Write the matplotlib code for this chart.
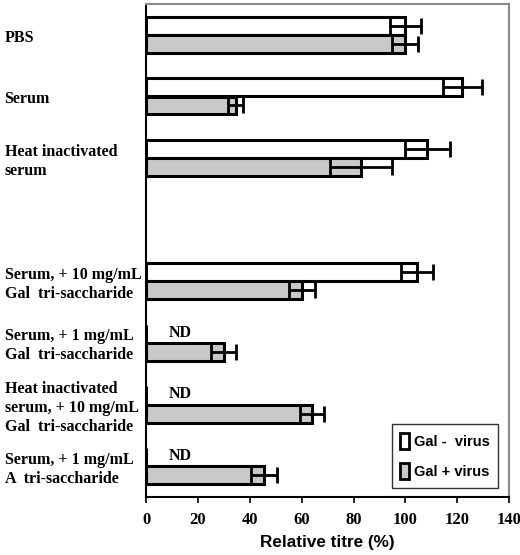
import matplotlib
matplotlib.use("Agg")
import matplotlib.pyplot as plt
import matplotlib.transforms as mtransforms
from matplotlib.patches import Patch

categories = ["PBS", "Serum", "Heat inactivated\nserum",
              "Serum, + 10 mg/mL\nGal  tri-saccharide",
              "Serum, + 1 mg/mL\nGal  tri-saccharide",
              "Heat inactivated\nserum, + 10 mg/mL\nGal  tri-saccharide",
              "Serum, + 1 mg/mL\nA  tri-saccharide"]
positions = [0, 1, 2, 4, 5, 6, 7]
gal_minus = [100, 122, 108.5, 104.5, 0, 0, 0]
gal_minus_err = [6, 7.5, 8.8, 6, 0, 0, 0]
gal_plus = [100, 34.5, 83, 60, 30, 64, 45.5]
gal_plus_err = [5, 3, 12, 5, 4.8, 4.8, 5]
nd_flags = [False, False, False, False, True, True, True]
xticks = [0, 20, 40, 60, 80, 100, 120, 140]

serif = "Liberation Serif"
sans = "Liberation Sans"

fig = plt.figure(figsize=(5.2, 5.55), dpi=100)
ax = fig.add_axes([0.281, 0.1045, 0.698, 0.8885])

h = 0.29
off = 0.148
grey = "#c9c9c9"
ym = [p - off for p in positions]
yp = [p + off for p in positions]
ax.barh(ym, gal_minus, height=h, color="white", edgecolor="black", linewidth=2.2, zorder=2)
ax.barh(yp, gal_plus, height=h, color=grey, edgecolor="black", linewidth=2.2, zorder=2)
ax.errorbar([v for v, e in zip(gal_minus, gal_minus_err) if e > 0],
            [y for y, e in zip(ym, gal_minus_err) if e > 0],
            xerr=[e for e in gal_minus_err if e > 0], fmt="none", ecolor="black",
            elinewidth=2, capsize=5.5, capthick=2, zorder=3)
ax.errorbar(gal_plus, yp, xerr=gal_plus_err, fmt="none", ecolor="black",
            elinewidth=2, capsize=5.5, capthick=2, zorder=3)

for y, nd in zip(ym, nd_flags):
    if nd:
        ax.text(13, y - 0.02, "ND", ha="center", va="center", fontsize=11.5,
                fontweight="bold", family=serif)

ax.set_xlim(0, 140)
ax.set_ylim(7.5, -0.5)
ax.set_xticks(xticks)
ax.set_xticklabels([str(t) for t in xticks], fontsize=12, fontweight="bold", family=serif)
ax.set_yticks([])
ax.tick_params(axis="x", direction="out", length=4, width=1.2, pad=7)
ax.set_xlabel("Relative titre (%)", fontsize=12.3, fontweight="bold", family=sans, labelpad=5)

for s in ["left", "bottom"]:
    ax.spines[s].set_linewidth(1.5)
    ax.spines[s].set_color("black")
for s in ["top", "right"]:
    ax.spines[s].set_linewidth(1.5)
    ax.spines[s].set_color("#8a8a8a")

trans = mtransforms.blended_transform_factory(fig.transFigure, ax.transData)
for p, lab in zip(positions, categories):
    ax.text(0.009, p + 0.05, lab, transform=trans, ha="left", va="center",
            fontsize=11.5, fontweight="bold", family=serif, linespacing=1.25)

handles = [Patch(facecolor="white", edgecolor="black", linewidth=2),
           Patch(facecolor=grey, edgecolor="black", linewidth=2)]
leg = ax.legend(handles, ["Gal -  virus", "Gal + virus"], loc="lower right",
                bbox_to_anchor=(0.97, 0.018), frameon=True, fancybox=False,
                edgecolor="black", prop={"family": sans, "weight": "bold", "size": 10.5},
                handlelength=0.6, handleheight=1.3, handletextpad=0.3,
                labelspacing=1.0, borderpad=0.6, borderaxespad=0)
leg.get_frame().set_linewidth(1.0)

fig.savefig("out.png", dpi=100)
